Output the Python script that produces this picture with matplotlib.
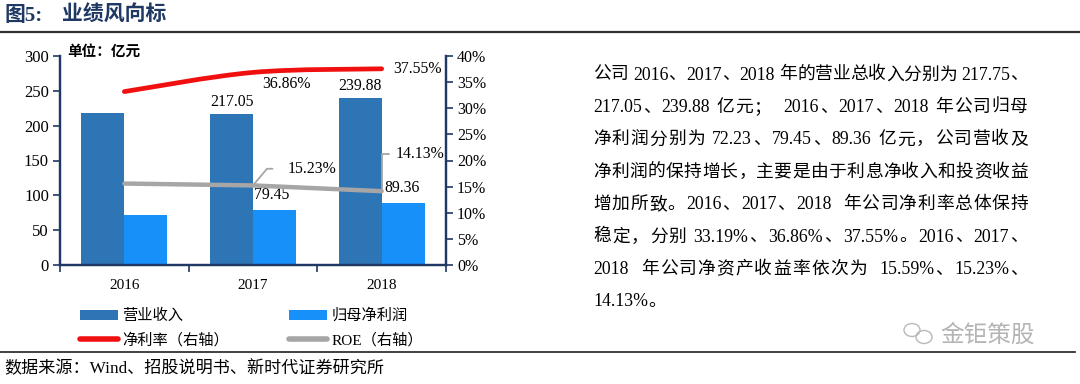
import matplotlib
matplotlib.use("Agg")
import matplotlib.pyplot as plt
from matplotlib.path import Path
from matplotlib.patches import PathPatch, Patch, Ellipse
from matplotlib.lines import Line2D
import numpy as np

plt.rcParams["font.family"] = ["Liberation Serif", "Noto Sans CJK SC"]

# data
years = ["2016", "2017", "2018"]
revenue = [217.75, 217.05, 239.88]        # 营业收入 (亿元)
net_profit = [72.23, 79.45, 89.36]        # 归母净利润 (亿元)
net_margin = [0.3319, 0.3686, 0.3755]     # 净利率 (right axis)
roe = [0.1559, 0.1523, 0.1413]            # ROE (right axis)

left_ticks = [0, 50, 100, 150, 200, 250, 300]
right_ticks = [0, 0.05, 0.10, 0.15, 0.20, 0.25, 0.30, 0.35, 0.40]

body_lines = [
    "公司 2016、2017、2018 年的营业总收入分别为 217.75、",
    "217.05、239.88 亿元；  2016、2017、2018 年公司归母",
    "净利润分别为 72.23、79.45、89.36 亿元，公司营收及",
    "净利润的保持增长，主要是由于利息净收入和投资收益",
    "增加所致。2016、2017、2018  年公司净利率总体保持",
    "稳定，分别 33.19%、36.86%、37.55%。2016、2017、",
    "2018  年公司净资产收益率依次为  15.59%、15.23%、",
    "14.13%。",
]

DARK = "#2E75B6"
LIGHT = "#1890FA"
RED = "#F01010"
GREY = "#A6A6A6"
NAVY = "#1F3864"

W, H = 1080, 384
fig = plt.figure(figsize=(W / 100, H / 100), dpi=100)
renderer = fig.canvas.get_renderer()

# header / footer
fig.text(5 / W, 1 - 16 / H, "图5:", fontsize=15, fontweight="bold",
         color=NAVY, va="center", ha="left")
fig.text(62 / W, 1 - 16 / H, "业绩风向标", fontsize=15, fontweight="bold",
         color=NAVY, va="center", ha="left")
fig.add_artist(Line2D([0, 1], [1 - 32 / H] * 2, color="#303030", lw=1.6))
fig.add_artist(Line2D([0, 1075 / W], [1 - 352 / H] * 2, color="#202020", lw=1.2))
fig.text(4 / W, 1 - 369 / H, "数据来源：Wind、招股说明书、新时代证券研究所",
         fontsize=12.3, va="center", ha="left")

# chart
ax = fig.add_axes([60 / W, 1 - 265 / H, 386 / W, 209 / H])
ax2 = ax.twinx()
ax.set_zorder(1)
ax2.set_zorder(2)
ax2.patch.set_visible(False)

x = np.arange(len(years))
w = 1 / 3
ax.bar(x - w / 2, revenue, w, color=DARK, zorder=2)
ax.bar(x + w / 2, net_profit, w, color=LIGHT, zorder=2)

ax.set_xlim(-0.5, 2.5)
ax.set_ylim(0, 300)
ax.set_yticks(left_ticks)
ax.set_xticks(x)
ax.set_xticklabels(years)
ax.set_xticks([-0.5, 0.5, 1.5, 2.5], minor=True)
ax.tick_params(axis="x", which="major", length=0, pad=10, labelsize=11)
ax.tick_params(axis="x", which="minor", length=5, width=1.2, color=NAVY, direction="out")
ax.tick_params(axis="y", length=5, width=1.2, color=NAVY, labelsize=12, pad=3)

ax2.set_ylim(0, 0.40)
ax2.set_yticks(right_ticks)
ax2.set_yticklabels([f"{int(round(t * 100))}%" for t in right_ticks])
ax2.tick_params(axis="y", length=5, width=1.2, color=NAVY, labelsize=11.5, pad=3)

for a in (ax, ax2):
    a.spines["top"].set_visible(False)
    for s in ("left", "right", "bottom"):
        a.spines[s].set_color(NAVY)
        a.spines[s].set_linewidth(1.6)

# smoothed net margin line (Excel-style smoothing through the points)
pts = np.column_stack([x, net_margin])
verts = [tuple(pts[0])]
codes = [Path.MOVETO]
n = len(pts)
for i in range(n - 1):
    p_prev = pts[max(i - 1, 0)]
    p0, p1 = pts[i], pts[i + 1]
    p_next = pts[min(i + 2, n - 1)]
    c1 = p0 + (p1 - p_prev) / 6
    c2 = p1 - (p_next - p0) / 6
    verts += [tuple(c1), tuple(c2), tuple(p1)]
    codes += [Path.CURVE4] * 3
ax2.add_patch(PathPatch(Path(verts, codes), fill=False, edgecolor=RED, lw=3.4,
                        capstyle="round", zorder=4))

ax2.plot(x, roe, color=GREY, lw=3.2, solid_capstyle="round", zorder=3)

# data labels
lab = dict(fontsize=11.3, ha="center", va="bottom", textcoords="offset points")
ax.annotate(f"{revenue[1]:.2f}", (x[1] - w / 2, revenue[1]), xytext=(0, 3), **lab)
ax.annotate(f"{revenue[2]:.2f}", (x[2] - w / 2, revenue[2]), xytext=(0, 3), **lab)
ax.annotate(f"{net_profit[1]:.2f}", (x[1] + w / 2, net_profit[1]), xytext=(-2, 5), **lab)
ax.annotate(f"{net_profit[2]:.2f}", (x[2] + w / 2, net_profit[2]), xytext=(-1, 5), **lab)

ax2.annotate(f"{net_margin[1] * 100:.2f}%", (x[1], net_margin[1]), xytext=(24, -8),
             textcoords="offset points", fontsize=11.3, ha="center", va="center")
ax2.annotate(f"{net_margin[2] * 100:.2f}%", (x[2], net_margin[2]), xytext=(8, 0),
             textcoords="offset points", fontsize=11.3, ha="left", va="center")

ax2.annotate(f"{roe[1] * 100:.2f}%", (x[1], roe[1]), xytext=(25, 12),
             textcoords="offset points", fontsize=11.3, ha="left", va="center",
             arrowprops=dict(arrowstyle="-", color=GREY, lw=1.3, relpos=(0, 0.5),
                             shrinkA=9, shrinkB=1,
                             connectionstyle="angle,angleA=0,angleB=50,rad=0"))
ax2.annotate(f"{roe[2] * 100:.2f}%", (x[2], roe[2]), xytext=(10, 27),
             textcoords="offset points", fontsize=11.3, ha="left", va="center",
             arrowprops=dict(arrowstyle="-", color=GREY, lw=1.3, relpos=(0, 0.5),
                             shrinkA=3, shrinkB=1,
                             connectionstyle="angle,angleA=0,angleB=90,rad=0"))

ax.text(0.02, 1.02, "单位：亿元", transform=ax.transAxes, fontsize=10.5,
        fontweight="bold", ha="left", va="center", zorder=5)

# legend (ncol fills column-first, so order for row-wise reading)
handles = [
    Patch(facecolor=DARK, label="营业收入"),
    Line2D([], [], color=RED, lw=4, solid_capstyle="round", label="净利率（右轴）"),
    Patch(facecolor=LIGHT, label="归母净利润"),
    Line2D([], [], color=GREY, lw=4, solid_capstyle="round", label="ROE（右轴）"),
]
fig.legend(handles=handles, ncol=2, loc="center left",
           bbox_to_anchor=(66 / W, 1 - 328 / H), frameon=False, fontsize=11,
           handlelength=2.5, handleheight=0.6, handletextpad=0.3,
           columnspacing=3.9, labelspacing=0.62)


# body text, justified between x0 and x1
def text_width(s, size):
    t = fig.text(0, 0, s, fontsize=size)
    wd = t.get_window_extent(renderer).width
    t.remove()
    return wd


def tokenize(line):
    toks, run = [], ""
    for ch in line:
        if ord(ch) < 128 and ch != " ":
            run += ch
            continue
        if run:
            toks.append(run)
            run = ""
        toks.append(ch)
    if run:
        toks.append(run)
    return toks


BODY_SIZE = 12.8
x0, x1 = 593, 1028
space_w = text_width("x x", BODY_SIZE) - text_width("xx", BODY_SIZE)
for i, line in enumerate(body_lines):
    y = 1 - (75 + i * 32.4) / H
    toks = tokenize(line)
    widths = [space_w if t == " " else text_width(t, BODY_SIZE) for t in toks]
    last = i == len(body_lines) - 1
    extra = 0 if last else (x1 - x0 - sum(widths)) / max(len(toks) - 1, 1)
    pos = x0
    for t, wd in zip(toks, widths):
        if t != " ":
            fig.text(pos / W, y, t, fontsize=BODY_SIZE, ha="left", va="center")
        pos += wd + extra

# watermark
fig.add_artist(Ellipse((912 / W, 1 - 330 / H), 16 / W, 13 / H,
                       fill=False, edgecolor="#B8B8B8", lw=1))
fig.add_artist(Ellipse((924 / W, 1 - 337 / H), 16 / W, 13 / H,
                       fill=False, edgecolor="#B8B8B8", lw=1))
fig.text(940 / W, 1 - 335 / H, "金钜策股", fontsize=17, color="#B4B4B4",
         ha="left", va="center", family="Noto Sans CJK SC")

fig.savefig("out.png", dpi=100)
